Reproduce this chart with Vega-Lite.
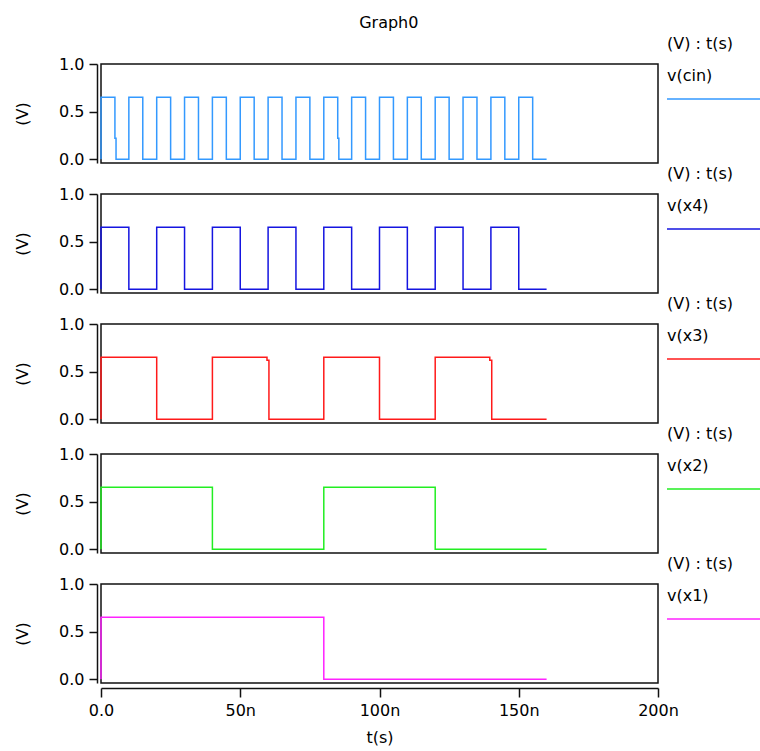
{
  "$schema": "https://vega.github.io/schema/vega-lite/v6.json",
  "background": "white",
  "padding": {"left": 13, "top": 15, "right": 0, "bottom": 0},
  "title": {"text": "Graph0", "fontSize": 16, "font": "DejaVu Sans", "fontWeight": "normal", "color": "#000", "anchor": "middle", "frame": "bounds", "offset": 4},
  "datasets": {
    "w": [
      {"s": "v(cin)", "t": 0, "v": 0}, {"s": "v(cin)", "t": 0, "v": 0.65}, {"s": "v(cin)", "t": 5, "v": 0.22}, {"s": "v(cin)", "t": 5.4, "v": 0},
      {"s": "v(cin)", "t": 10, "v": 0.65}, {"s": "v(cin)", "t": 15, "v": 0}, {"s": "v(cin)", "t": 20, "v": 0.65}, {"s": "v(cin)", "t": 25, "v": 0},
      {"s": "v(cin)", "t": 30, "v": 0.65}, {"s": "v(cin)", "t": 35, "v": 0}, {"s": "v(cin)", "t": 40, "v": 0.65}, {"s": "v(cin)", "t": 45, "v": 0},
      {"s": "v(cin)", "t": 50, "v": 0.65}, {"s": "v(cin)", "t": 55, "v": 0}, {"s": "v(cin)", "t": 60, "v": 0.65}, {"s": "v(cin)", "t": 65, "v": 0},
      {"s": "v(cin)", "t": 70, "v": 0.65}, {"s": "v(cin)", "t": 75, "v": 0}, {"s": "v(cin)", "t": 80, "v": 0.65}, {"s": "v(cin)", "t": 85, "v": 0.22},
      {"s": "v(cin)", "t": 85.4, "v": 0}, {"s": "v(cin)", "t": 90, "v": 0.65}, {"s": "v(cin)", "t": 95, "v": 0}, {"s": "v(cin)", "t": 100, "v": 0.65},
      {"s": "v(cin)", "t": 105, "v": 0}, {"s": "v(cin)", "t": 110, "v": 0.65}, {"s": "v(cin)", "t": 115, "v": 0}, {"s": "v(cin)", "t": 120, "v": 0.65},
      {"s": "v(cin)", "t": 125, "v": 0}, {"s": "v(cin)", "t": 130, "v": 0.65}, {"s": "v(cin)", "t": 135, "v": 0}, {"s": "v(cin)", "t": 140, "v": 0.65},
      {"s": "v(cin)", "t": 145, "v": 0}, {"s": "v(cin)", "t": 150, "v": 0.65}, {"s": "v(cin)", "t": 155, "v": 0}, {"s": "v(cin)", "t": 160, "v": 0},
      {"s": "v(x4)", "t": 0, "v": 0}, {"s": "v(x4)", "t": 0, "v": 0.65}, {"s": "v(x4)", "t": 10, "v": 0}, {"s": "v(x4)", "t": 20, "v": 0.65},
      {"s": "v(x4)", "t": 30, "v": 0}, {"s": "v(x4)", "t": 40, "v": 0.65}, {"s": "v(x4)", "t": 50, "v": 0}, {"s": "v(x4)", "t": 60, "v": 0.65},
      {"s": "v(x4)", "t": 70, "v": 0}, {"s": "v(x4)", "t": 80, "v": 0.65}, {"s": "v(x4)", "t": 90, "v": 0}, {"s": "v(x4)", "t": 100, "v": 0.65},
      {"s": "v(x4)", "t": 110, "v": 0}, {"s": "v(x4)", "t": 120, "v": 0.65}, {"s": "v(x4)", "t": 130, "v": 0}, {"s": "v(x4)", "t": 140, "v": 0.65},
      {"s": "v(x4)", "t": 150, "v": 0}, {"s": "v(x4)", "t": 160, "v": 0},
      {"s": "v(x3)", "t": 0, "v": 0}, {"s": "v(x3)", "t": 0, "v": 0.65}, {"s": "v(x3)", "t": 20, "v": 0}, {"s": "v(x3)", "t": 40, "v": 0.65},
      {"s": "v(x3)", "t": 59.6, "v": 0.62}, {"s": "v(x3)", "t": 60.3, "v": 0}, {"s": "v(x3)", "t": 80, "v": 0.65}, {"s": "v(x3)", "t": 100, "v": 0},
      {"s": "v(x3)", "t": 120, "v": 0.65}, {"s": "v(x3)", "t": 139.6, "v": 0.62}, {"s": "v(x3)", "t": 140.3, "v": 0}, {"s": "v(x3)", "t": 160, "v": 0},
      {"s": "v(x2)", "t": 0, "v": 0}, {"s": "v(x2)", "t": 0, "v": 0.65}, {"s": "v(x2)", "t": 40, "v": 0}, {"s": "v(x2)", "t": 80, "v": 0.65},
      {"s": "v(x2)", "t": 120, "v": 0}, {"s": "v(x2)", "t": 160, "v": 0},
      {"s": "v(x1)", "t": 0, "v": 0}, {"s": "v(x1)", "t": 0, "v": 0.65}, {"s": "v(x1)", "t": 80, "v": 0}, {"s": "v(x1)", "t": 160, "v": 0}
    ]
  },
  "data": {"name": "w"},
  "bounds": "flush",
  "spacing": 31,
  "resolve": {"scale": {"color": "independent"}, "legend": {"color": "independent"}},
  "vconcat": [
    {
      "width": 557, "height": 99,
      "transform": [{"filter": "datum.s == 'v(cin)'"}],
      "mark": {"type": "line", "interpolate": "step-after", "strokeWidth": 1.5},
      "encoding": {
        "x": {"field": "t", "type": "quantitative", "scale": {"domain": [0, 200], "nice": false, "zero": false}, "axis": null},
        "y": {"field": "v", "type": "quantitative", "scale": {"domain": [-0.04, 1], "nice": false}, "axis": {"values": [0, 0.5, 1], "format": ".1f", "title": "(V)"}},
        "color": {"field": "s", "type": "nominal", "scale": {"domain": ["v(cin)"], "range": ["#3399ff"]}, "legend": {"title": "(V) : t(s)", "orient": "none", "legendX": 566, "legendY": -28, "symbolType": "M-1.6,4.6H17"}}
      }
    },
    {
      "width": 557, "height": 99,
      "transform": [{"filter": "datum.s == 'v(x4)'"}],
      "mark": {"type": "line", "interpolate": "step-after", "strokeWidth": 1.5},
      "encoding": {
        "x": {"field": "t", "type": "quantitative", "scale": {"domain": [0, 200], "nice": false, "zero": false}, "axis": null},
        "y": {"field": "v", "type": "quantitative", "scale": {"domain": [-0.04, 1], "nice": false}, "axis": {"values": [0, 0.5, 1], "format": ".1f", "title": "(V)"}},
        "color": {"field": "s", "type": "nominal", "scale": {"domain": ["v(x4)"], "range": ["#1515e0"]}, "legend": {"title": "(V) : t(s)", "orient": "none", "legendX": 566, "legendY": -28, "symbolType": "M-1.6,4.6H17"}}
      }
    },
    {
      "width": 557, "height": 99,
      "transform": [{"filter": "datum.s == 'v(x3)'"}],
      "mark": {"type": "line", "interpolate": "step-after", "strokeWidth": 1.5},
      "encoding": {
        "x": {"field": "t", "type": "quantitative", "scale": {"domain": [0, 200], "nice": false, "zero": false}, "axis": null},
        "y": {"field": "v", "type": "quantitative", "scale": {"domain": [-0.04, 1], "nice": false}, "axis": {"values": [0, 0.5, 1], "format": ".1f", "title": "(V)"}},
        "color": {"field": "s", "type": "nominal", "scale": {"domain": ["v(x3)"], "range": ["#ff1a1a"]}, "legend": {"title": "(V) : t(s)", "orient": "none", "legendX": 566, "legendY": -28, "symbolType": "M-1.6,4.6H17"}}
      }
    },
    {
      "width": 557, "height": 99,
      "transform": [{"filter": "datum.s == 'v(x2)'"}],
      "mark": {"type": "line", "interpolate": "step-after", "strokeWidth": 1.5},
      "encoding": {
        "x": {"field": "t", "type": "quantitative", "scale": {"domain": [0, 200], "nice": false, "zero": false}, "axis": null},
        "y": {"field": "v", "type": "quantitative", "scale": {"domain": [-0.04, 1], "nice": false}, "axis": {"values": [0, 0.5, 1], "format": ".1f", "title": "(V)"}},
        "color": {"field": "s", "type": "nominal", "scale": {"domain": ["v(x2)"], "range": ["#22ee22"]}, "legend": {"title": "(V) : t(s)", "orient": "none", "legendX": 566, "legendY": -28, "symbolType": "M-1.6,4.6H17"}}
      }
    },
    {
      "width": 557, "height": 99,
      "transform": [{"filter": "datum.s == 'v(x1)'"}],
      "mark": {"type": "line", "interpolate": "step-after", "strokeWidth": 1.5},
      "encoding": {
        "x": {"field": "t", "type": "quantitative", "scale": {"domain": [0, 200], "nice": false, "zero": false}, "axis": {"values": [0, 50, 100, 150, 200], "labelExpr": "datum.value == 0 ? '0.0' : datum.value + 'n'", "title": "t(s)", "labelFlush": false}},
        "y": {"field": "v", "type": "quantitative", "scale": {"domain": [-0.04, 1], "nice": false}, "axis": {"values": [0, 0.5, 1], "format": ".1f", "title": "(V)"}},
        "color": {"field": "s", "type": "nominal", "scale": {"domain": ["v(x1)"], "range": ["#ff22ff"]}, "legend": {"title": "(V) : t(s)", "orient": "none", "legendX": 566, "legendY": -28, "symbolType": "M-1.6,4.6H17"}}
      }
    }
  ],
  "config": {
    "font": "DejaVu Sans",
    "view": {"stroke": "#111", "strokeWidth": 1.5},
    "axis": {"labelFont": "DejaVu Sans", "labelFontSize": 16, "labelColor": "#000", "titleFont": "DejaVu Sans", "titleFontSize": 16, "titleFontWeight": "normal", "titleColor": "#000", "domainColor": "#111", "tickColor": "#111", "domainWidth": 1.5, "tickWidth": 1.5, "grid": false},
    "axisY": {"offset": 4, "tickSize": 8, "labelPadding": 5, "titlePadding": 28},
    "axisX": {"offset": 5, "tickSize": 9, "labelPadding": 5, "titlePadding": 11},
    "legend": {"titleFont": "DejaVu Sans", "titleFontSize": 16, "titleFontWeight": "normal", "titleColor": "#000", "labelFont": "DejaVu Sans", "labelFontSize": 16, "labelColor": "#000", "symbolSize": 100, "symbolStrokeWidth": 1.5, "labelOffset": -16, "titlePadding": 16, "padding": 0, "labelLimit": 0}
  }
}
